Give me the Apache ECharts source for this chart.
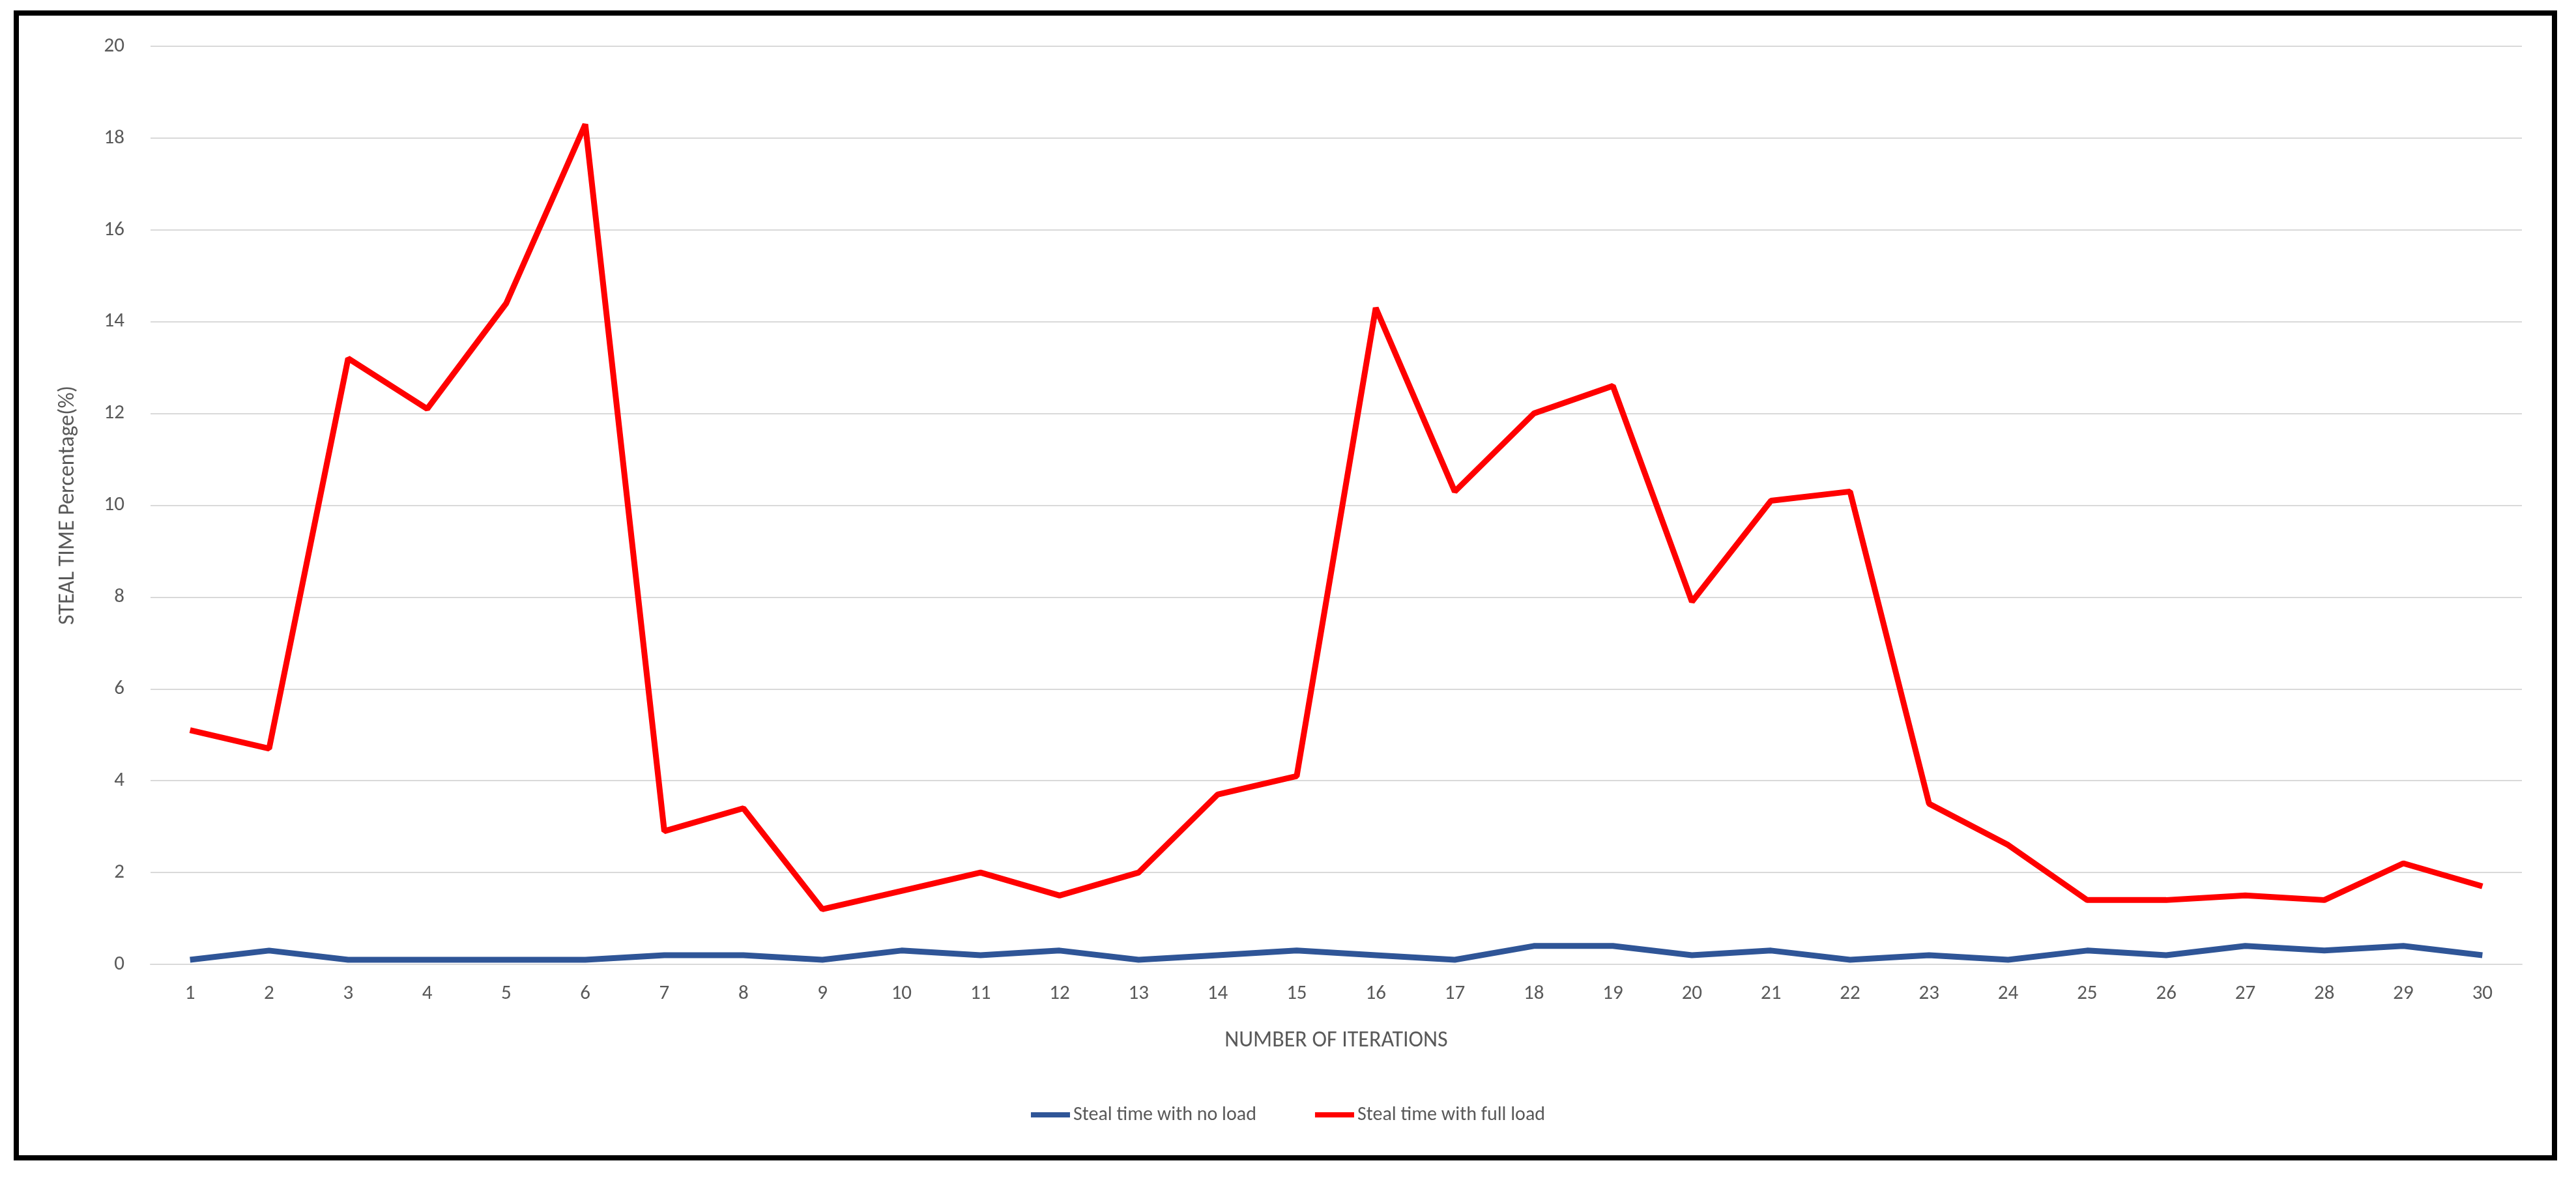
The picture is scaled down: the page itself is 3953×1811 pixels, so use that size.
<!DOCTYPE html>
<html>
<head>
<meta charset="utf-8">
<script src="https://cdn.jsdelivr.net/npm/echarts@6/dist/echarts.min.js"></script>
<style>
  html, body { margin: 0; padding: 0; background: #fff; }
  #chart { width: 3953px; height: 1811px; }
</style>
</head>
<body>
<div id="chart"></div>
<script>
// Iterations 1..30
const iterations = Array.from({ length: 30 }, (_, i) => String(i + 1));

const noLoad = [0.1, 0.3, 0.1, 0.1, 0.1, 0.1, 0.2, 0.2, 0.1, 0.3,
  0.2, 0.3, 0.1, 0.2, 0.3, 0.2, 0.1, 0.4, 0.4, 0.2,
  0.3, 0.1, 0.2, 0.1, 0.3, 0.2, 0.4, 0.3, 0.4, 0.2];

const fullLoad = [5.1, 4.7, 13.2, 12.1, 14.4, 18.3, 2.9, 3.4, 1.2, 1.6,
  2.0, 1.5, 2.0, 3.7, 4.1, 14.3, 10.3, 12.0, 12.6, 7.9,
  10.1, 10.3, 3.5, 2.6, 1.4, 1.4, 1.5, 1.4, 2.2, 1.7];

const font = "Calibri, 'Liberation Sans', 'Open Sans', sans-serif";
const grey = "#595959";

const chart = echarts.init(document.getElementById("chart"));
chart.setOption({
  animation: false,
  textStyle: { fontFamily: font },
  graphic: [{
    type: "rect",
    shape: { x: 25, y: 20, width: 3895, height: 1757 },
    style: { fill: "none", stroke: "#000", lineWidth: 8 },
  }],
  grid: { left: 231, right: 83, top: 71, bottom: 331 },
  legend: {
    bottom: 80,
    itemWidth: 60,
    itemHeight: 8,
    itemGap: 90,
    icon: "rect",
    textStyle: { fontSize: 30, color: grey, fontFamily: font },
    data: ["Steal time with no load", "Steal time with full load"],
  },
  xAxis: {
    type: "category",
    data: iterations,
    boundaryGap: true,
    name: "NUMBER OF ITERATIONS",
    nameLocation: "middle",
    nameGap: 100,
    nameTextStyle: { fontSize: 34, color: grey },
    axisLine: { lineStyle: { color: "#d9d9d9", width: 2 } },
    axisTick: { show: false },
    axisLabel: { fontSize: 31, color: grey, margin: 30 },
  },
  yAxis: {
    type: "value",
    min: 0,
    max: 20,
    interval: 2,
    name: "STEAL TIME Percentage(%)",
    nameLocation: "middle",
    nameGap: 110,
    nameTextStyle: { fontSize: 34, color: grey },
    axisLine: { show: false },
    axisTick: { show: false },
    axisLabel: { fontSize: 31, color: grey, margin: 40 },
    splitLine: { lineStyle: { color: "#d9d9d9", width: 2 } },
  },
  series: [
    {
      name: "Steal time with no load",
      type: "line",
      data: noLoad,
      symbol: "none",
      itemStyle: { color: "#2f5597" },
      lineStyle: { color: "#2f5597", width: 9 },
    },
    {
      name: "Steal time with full load",
      type: "line",
      data: fullLoad,
      symbol: "none",
      itemStyle: { color: "#ff0000" },
      lineStyle: { color: "#ff0000", width: 9 },
    },
  ],
});
</script>
</body>
</html>
